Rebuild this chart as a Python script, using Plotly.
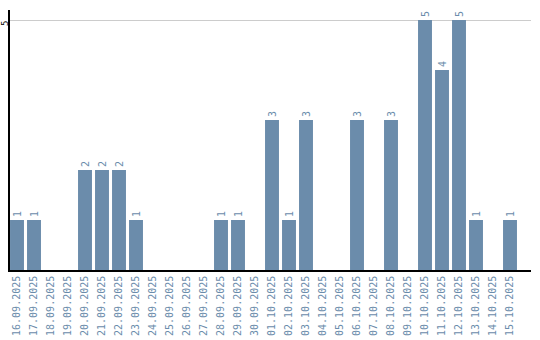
import plotly.graph_objects as go

dates = ["16.09.2025","17.09.2025","18.09.2025","19.09.2025","20.09.2025","21.09.2025",
         "22.09.2025","23.09.2025","24.09.2025","25.09.2025","26.09.2025","27.09.2025",
         "28.09.2025","29.09.2025","30.09.2025","01.10.2025","02.10.2025","03.10.2025",
         "04.10.2025","05.10.2025","06.10.2025","07.10.2025","08.10.2025","09.10.2025",
         "10.10.2025","11.10.2025","12.10.2025","13.10.2025","14.10.2025","15.10.2025"]
counts = [1,1,0,0,2,2,2,1,0,0,0,0,1,1,0,3,1,3,0,0,3,0,3,0,5,4,5,1,0,1]
ytick_vals = [5]

bar_color = "#6b8cab"
label_color = "#6b8cab"

texts = [str(v) if v > 0 else "" for v in counts]

fig = go.Figure(go.Bar(
    x=list(range(len(dates))), y=counts, marker_color=bar_color, marker_line_width=0,
    text=texts, textposition="outside", textangle=-90, constraintext="none",
    cliponaxis=False,
    textfont=dict(family="DejaVu Sans Mono", size=10, color=label_color),
))

for v in ytick_vals:
    fig.add_annotation(x=0, xref="paper", y=v, yref="y", text=str(v), showarrow=False,
                       textangle=-90, xanchor="center", yanchor="middle", xshift=-5,
                       yshift=-4,
                       font=dict(family="DejaVu Sans Mono", size=9, color="black"))

fig.update_layout(
    width=540, height=340, margin=dict(l=10, r=9, t=10, b=70),
    paper_bgcolor="white", plot_bgcolor="white", showlegend=False, bargap=0.18,
    xaxis=dict(range=[-0.412, 30.235], tickmode="array", tickvals=list(range(len(dates))),
               ticktext=dates, tickangle=-90, showgrid=False, zeroline=False,
               showline=True, linecolor="black", linewidth=1.5, ticks="", automargin=False,
               tickfont=dict(family="DejaVu Sans Mono", size=10, color=label_color)),
    yaxis=dict(range=[0, 5.2], tickvals=ytick_vals, showgrid=True, gridcolor="#cccccc",
               gridwidth=1, zeroline=False, showline=True, linecolor="black", linewidth=1.5,
               ticks="", showticklabels=False, automargin=False),
)

fig.write_html("out.html")
